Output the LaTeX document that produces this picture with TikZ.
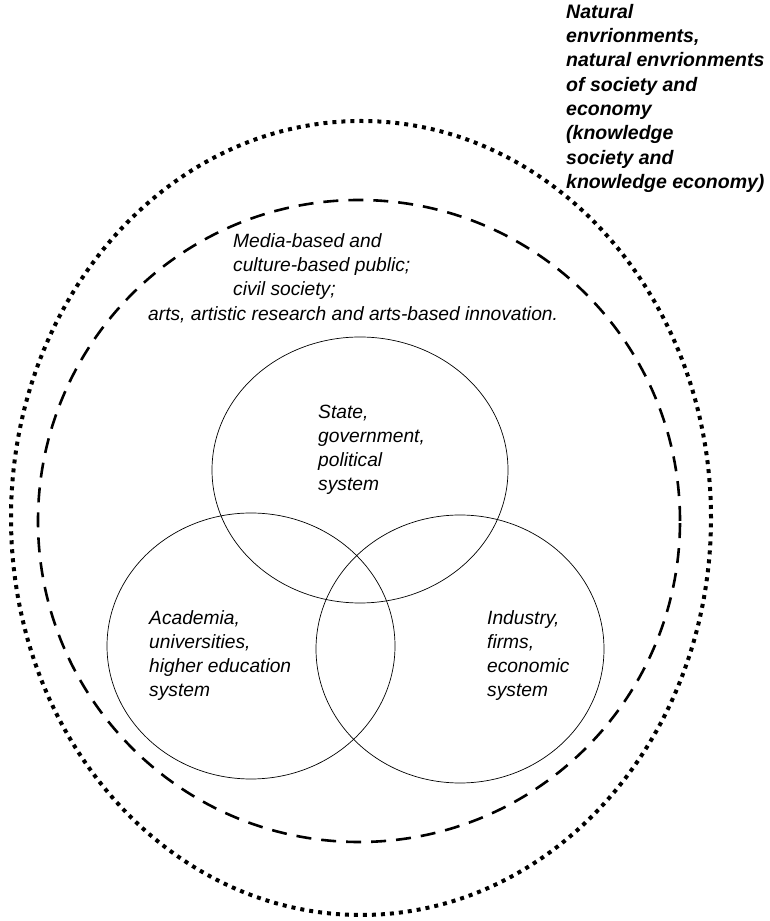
\documentclass[tikz,border=0pt]{standalone}
\usepackage{fontspec}
\setmainfont{Liberation Sans}
\usetikzlibrary{positioning}

\begin{document}
\begin{tikzpicture}[line join=bevel,
  lbl/.style={anchor=north west,inner sep=0pt,align=left,font=\itshape\fontsize{19.2bp}{24bp}\selectfont},
  sys/.style={line width=0.7bp}]
%
  \useasboundingbox (0bp,0bp) rectangle (770bp,921bp);
  \draw [line width=4bp,dash pattern=on 4bp off 5bp] (361bp,403bp) ellipse [x radius=350bp,y radius=397bp];
  \draw [line width=2.6bp,dash pattern=on 15bp off 10bp] (359bp,400bp) ellipse [x radius=321bp,y radius=321bp];
  \draw [sys] (360bp,451bp) ellipse [x radius=148bp,y radius=133bp];
  \draw [sys] (251bp,275bp) ellipse [x radius=144bp,y radius=133bp];
  \draw [sys] (460bp,272bp) ellipse [x radius=144bp,y radius=134bp];
%
  \node (natural) at (566bp,917bp) [lbl,font=\itshape\bfseries\fontsize{19.5bp}{24.3bp}\selectfont] {Natural\\envrionments,\\natural envrionments\\of society and\\economy\\(knowledge\\society and\\knowledge economy)};
  \node (media) at (233bp,688bp) [lbl] {Media-based and\\culture-based public;\\civil society;};
  \node (arts) at (148bp,615bp) [lbl] {arts, artistic research and arts-based innovation.};
  \node (state) at (318bp,516bp) [lbl] {State,\\government,\\political\\system};
  \node (academia) at (149bp,311bp) [lbl] {Academia,\\universities,\\higher education\\system};
  \node (industry) at (487bp,311bp) [lbl] {Industry,\\firms,\\economic\\system};
%
\end{tikzpicture}
\end{document}
